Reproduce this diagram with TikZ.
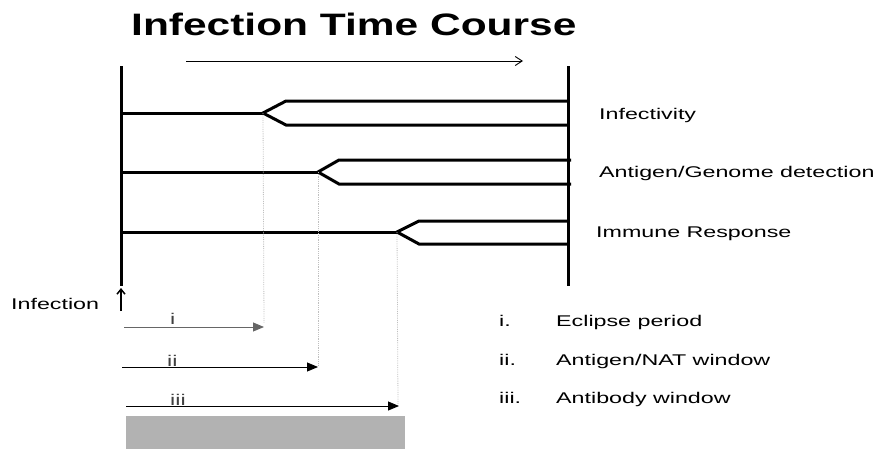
\documentclass[tikz,border=0pt]{standalone}
\usepackage{fontspec}
\setmainfont{Liberation Sans}
\newfontfamily\widefont[FakeStretch=1.5]{Liberation Sans}
\newfontfamily\titlefont[FakeStretch=1.37]{Liberation Sans Bold}
\usetikzlibrary{arrows.meta}
\begin{document}
\begin{tikzpicture}[x=1pt,y=-1pt,
  thickline/.style={line width=3pt, line join=miter},
  guide/.style={draw=black!25, line width=0.8pt, densely dotted},
  period/.style={line width=0.9pt, -{Triangle[length=11pt,width=9pt]}},
  lbl/.style={font=\widefont\fontsize{15.5}{18}\selectfont, anchor=base west, inner sep=0pt},
  small/.style={font=\widefont\fontsize{15.5}{18}\selectfont, inner sep=0pt, anchor=base west}]
\useasboundingbox (0,0) rectangle (882,450);
% title
\node[font=\titlefont\fontsize{31}{36}\selectfont, inner sep=0pt, anchor=base west] (title) at (131,35.7) {Infection Time Course};
% time arrow
\coordinate (ta) at (186,61);
\coordinate (tb) at (523,61);
\draw[line width=0.9pt, -{Straight Barb[length=7pt,width=9pt]}] (ta) -- (tb);
% verticals
\coordinate (L1) at (121,66); \coordinate (L2) at (121,286);
\coordinate (R1) at (568,66); \coordinate (R2) at (568,286);
\draw[thickline] (L1) -- (L2);
\draw[thickline] (R1) -- (R2);
% Infectivity
\coordinate (a0) at (121,113); \coordinate (atip) at (263,113);
\coordinate (au) at (286,101); \coordinate (ad) at (286,125);
\coordinate (aur) at (568,101); \coordinate (adr) at (568,125);
\draw[thickline] (a0) -- (atip);
\draw[thickline] (aur) -- (au) -- (atip) -- (ad) -- (adr);
% Antigen
\coordinate (b0) at (121,172); \coordinate (btip) at (318,172);
\coordinate (bu) at (339,160); \coordinate (bd) at (339,184);
\coordinate (bur) at (571,160); \coordinate (bdr) at (571,184);
\draw[thickline] (b0) -- (btip);
\draw[thickline] (bur) -- (bu) -- (btip) -- (bd) -- (bdr);
% Immune
\coordinate (c0) at (121,232); \coordinate (ctip) at (397,232);
\coordinate (cu) at (419,221); \coordinate (cd) at (419,244);
\coordinate (cur) at (568,221); \coordinate (cdr) at (568,244);
\draw[thickline] (c0) -- (ctip);
\draw[thickline] (cur) -- (cu) -- (ctip) -- (cd) -- (cdr);
% right labels
\node[lbl] (inf) at (599,119.3) {Infectivity};
\node[lbl] (ant) at (599,177.5) {Antigen/Genome detection};
\node[lbl] (imm) at (596,237) {Immune Response};
% infection marker
\node[small] (infection) at (11,309.3) {Infection};
\coordinate (ia) at (121,311); \coordinate (ib) at (121,288);
\draw[line width=1.5pt, -{Straight Barb[length=5pt,width=8pt]}] (ia) -- (ib);
% period arrows
\coordinate (p1a) at (124,327); \coordinate (p1b) at (264,327);
\coordinate (p2a) at (122,367); \coordinate (p2b) at (318,367);
\coordinate (p3a) at (126,406); \coordinate (p3b) at (399,406);
\draw[guide] (atip) -- (264,323);
\draw[guide] (btip) -- (318,366);
\draw[guide] (ctip) -- (398,404);
\draw[period, draw=black!60, fill=black] (p1a) -- (p1b);
\draw[period] (p2a) -- (p2b);
\draw[period] (p3a) -- (p3b);
\node[small, text=black!75] (li) at (170,324.3) {i};
\node[small, text=black!75] (lii) at (167,366.5) {ii};
\node[small, text=black!75] (liii) at (170,405) {iii};
% gray bar
\fill[black!30] (126,416) rectangle (405,449);
% legend
\node[small] (g1) at (499,326) {i.};
\node[small] (g2) at (499,365) {ii.};
\node[small] (g3) at (499,403) {iii.};
\node[small] (h1) at (556,326) {Eclipse period};
\node[small] (h2) at (556,365) {Antigen/NAT window};
\node[small] (h3) at (556,403) {Antibody window};
\end{tikzpicture}
\end{document}
